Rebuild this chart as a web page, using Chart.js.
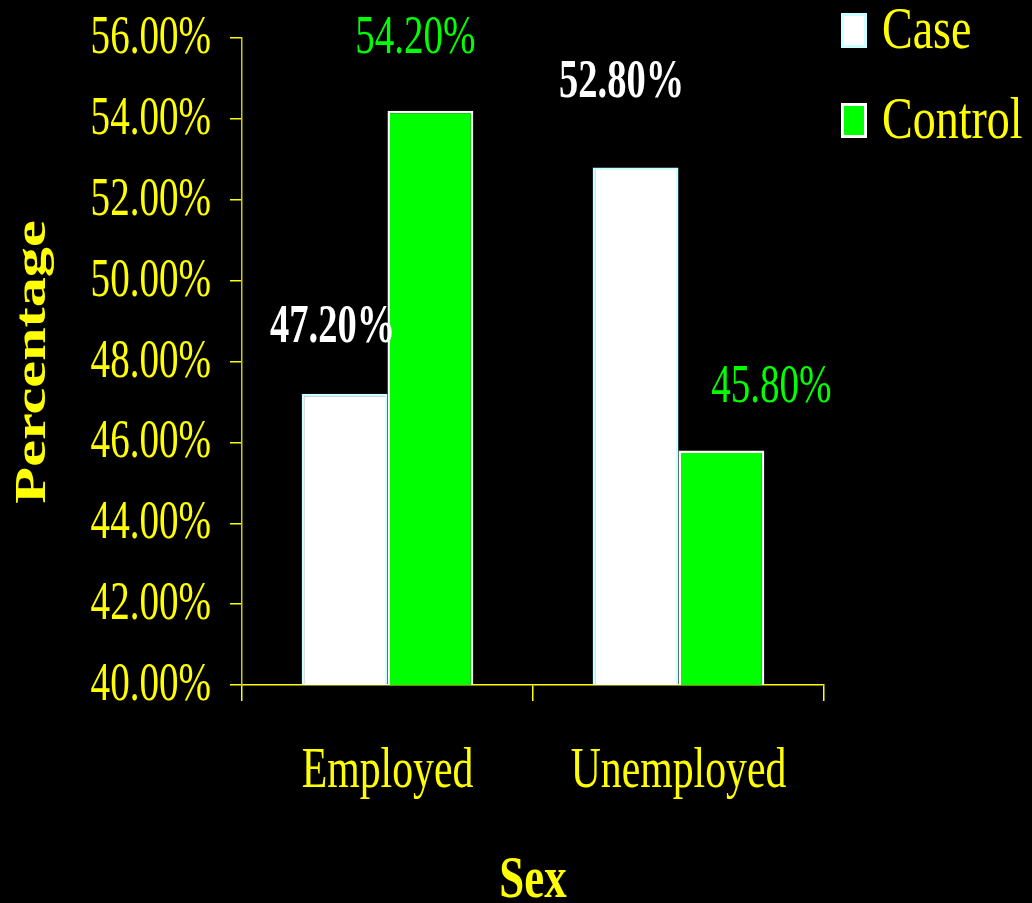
<!DOCTYPE html>
<html>
<head>
<meta charset="utf-8">
<script src="https://cdn.jsdelivr.net/npm/chart.js"></script>
<style>
  html, body { margin: 0; padding: 0; background: #000; }
  #wrap { width: 1032px; height: 903px; }
</style>
</head>
<body>
<div id="wrap"><canvas id="sexChart" width="1032" height="903"></canvas></div>
<script>
// chart data
const categories = ['Employed', 'Unemployed'];
const seriesNames = ['Case', 'Control'];
const caseValues = [47.2, 52.8];
const controlValues = [54.2, 45.8];
const yTicks = [40, 42, 44, 46, 48, 50, 52, 54, 56];
const xTitle = 'Sex';
const yTitle = 'Percentage';

// where each value label sits relative to the top of its bar
const labelOffsets = [
    [[-12, -52], [-14, -70]],
    [[-15, -58], [50, -48]]
];

const YELLOW = '#ffff00';
const GREEN = '#00ff00';
const SERIF = '"Liberation Serif", "Times New Roman", serif';

// Times looks too wide here, so squeeze it sideways
function drawText(ctx, text, x, y, o) {
    ctx.save();
    ctx.translate(x, y);
    if (o.rotate) ctx.rotate(o.rotate);
    ctx.scale(o.sx, 1);
    ctx.font = o.font;
    ctx.fillStyle = o.color;
    ctx.textAlign = o.align || 'center';
    ctx.textBaseline = 'alphabetic';
    ctx.fillText(text, 0, 0);
    ctx.restore();
}

const textPlugin = {
    id: 'textPlugin',
    afterDraw(chart) {
        const ctx = chart.ctx;
        const yScale = chart.scales.y;
        const xScale = chart.scales.x;

        // y tick labels
        yScale.ticks.forEach(t => {
            const y = yScale.getPixelForValue(t.value);
            drawText(ctx, t.value.toFixed(2) + '%', 211, y + 15,
                { font: '55px ' + SERIF, color: YELLOW, sx: 0.71, align: 'right' });
        });

        // category labels
        categories.forEach((c, i) => {
            drawText(ctx, c, xScale.getPixelForValue(i), 787,
                { font: '58px ' + SERIF, color: YELLOW, sx: 0.72 });
        });

        // axis titles
        drawText(ctx, xTitle, (chart.chartArea.left + chart.chartArea.right) / 2, 897,
            { font: 'bold 59px ' + SERIF, color: YELLOW, sx: 0.76 });
        drawText(ctx, yTitle, 45, 362,
            { font: 'bold 44px ' + SERIF, color: YELLOW, sx: 1.37, rotate: -Math.PI / 2 });

        // value labels
        chart.data.datasets.forEach((ds, di) => {
            const meta = chart.getDatasetMeta(di);
            meta.data.forEach((bar, i) => {
                const off = labelOffsets[di][i];
                const bold = di === 0;
                drawText(ctx, ds.data[i].toFixed(2) + '%', bar.x + off[0], bar.y + off[1], {
                    font: (bold ? 'bold ' : '') + '55px ' + SERIF,
                    color: bold ? '#ffffff' : GREEN,
                    sx: bold ? 0.70 : 0.71
                });
            });
        });

        // legend
        chart.data.datasets.forEach((ds, di) => {
            const top = 13 + di * 90;
            ctx.save();
            ctx.fillStyle = ds.borderColor;
            ctx.fillRect(841, top, 26, 35);
            ctx.fillStyle = ds.backgroundColor;
            ctx.fillRect(844, top + 3, 20, 29);
            ctx.restore();
            drawText(ctx, ds.label, 882, top + 35,
                { font: '59px ' + SERIF, color: YELLOW, sx: 0.78, align: 'left' });
        });
    }
};

new Chart(document.getElementById('sexChart'), {
    type: 'bar',
    data: {
        labels: categories,
        datasets: [
            {
                label: seriesNames[0],
                data: caseValues,
                backgroundColor: '#ffffff',
                borderColor: '#ccffff',
                borderWidth: 2.5,
                borderSkipped: false
            },
            {
                label: seriesNames[1],
                data: controlValues,
                backgroundColor: GREEN,
                borderColor: '#ffffff',
                borderWidth: 2.5,
                borderSkipped: false
            }
        ]
    },
    options: {
        responsive: false,
        animation: false,
        devicePixelRatio: 1,
        layout: { padding: { left: 230, right: 208, top: 38, bottom: 202 } },
        datasets: { bar: { categoryPercentage: 0.59, barPercentage: 1.0 } },
        plugins: {
            legend: { display: false },
            tooltip: { enabled: false }
        },
        scales: {
            x: {
                ticks: { display: false },
                grid: {
                    offset: true,
                    drawOnChartArea: false,
                    color: YELLOW,
                    tickLength: 16,
                    lineWidth: 1.5
                },
                border: { color: YELLOW, width: 1.5 }
            },
            y: {
                min: yTicks[0],
                max: yTicks[yTicks.length - 1],
                ticks: { display: false, stepSize: yTicks[1] - yTicks[0] },
                grid: {
                    drawOnChartArea: false,
                    color: YELLOW,
                    tickLength: 12,
                    lineWidth: 1.5
                },
                border: { color: '#d0c800', width: 1.5 }
            }
        }
    },
    plugins: [textPlugin]
});
</script>
</body>
</html>
